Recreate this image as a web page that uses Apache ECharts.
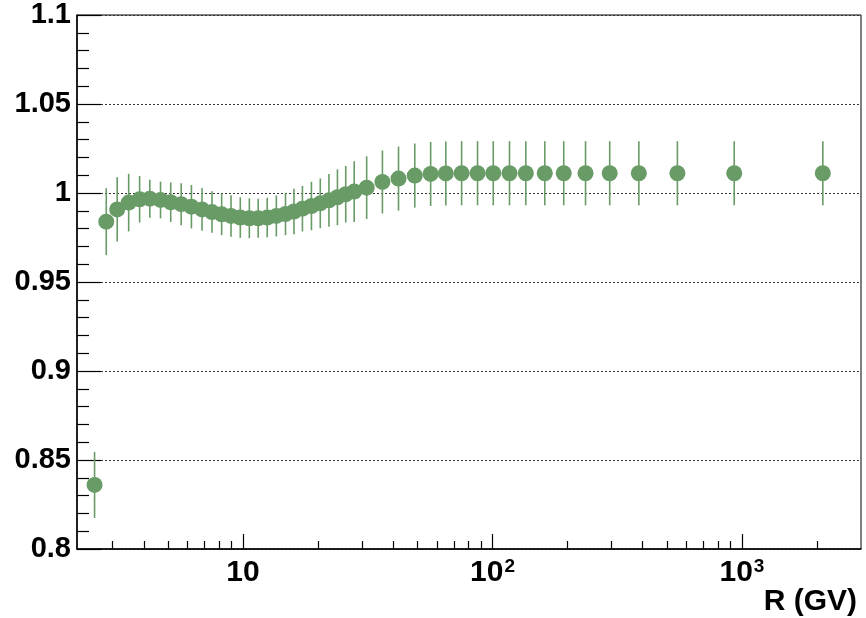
<!DOCTYPE html>
<html>
<head>
<meta charset="utf-8">
<title>R (GV)</title>
<script src="https://cdn.jsdelivr.net/npm/echarts@6/dist/echarts.min.js"></script>
<style>
  html, body { margin: 0; padding: 0; background: #ffffff; }
  #chart { width: 866px; height: 618px; }
</style>
</head>
<body>
<div id="chart"></div>
<script>
// Rigidity bin positions (GV)
const rigidity = [2.54, 2.83, 3.13, 3.48, 3.85, 4.23, 4.67, 5.13, 5.65, 6.21,
  6.85, 7.51, 8.21, 8.95, 9.75, 10.6, 11.5, 12.5, 13.6, 14.8,
  16.0, 17.3, 18.8, 20.4, 22.1, 23.9, 25.8, 27.9, 31.3, 36.2,
  42.0, 48.8, 56.5, 65.0, 75.2, 87.1, 100.7, 117, 136, 162,
  193, 236, 295, 386, 551, 931, 2109];

// Ratio values
const ratio = [0.836, 0.9839, 0.9908, 0.9946, 0.9965, 0.9968, 0.9961, 0.9948, 0.9937, 0.9923,
  0.9908, 0.9893, 0.9880, 0.9871, 0.9862, 0.9858, 0.9858, 0.9862, 0.9871, 0.9882,
  0.9896, 0.9912, 0.9927, 0.9942, 0.9959, 0.9976, 0.9993, 1.0008, 1.0030, 1.0062,
  1.0081, 1.0098, 1.0107, 1.0110, 1.0111, 1.0111, 1.0111, 1.0111, 1.0111, 1.0111,
  1.0111, 1.0111, 1.0111, 1.0111, 1.0111, 1.0111, 1.0111];

// Symmetric uncertainties
const errors = [0.0185, 0.0188, 0.0180, 0.0162, 0.0131, 0.0107, 0.0103, 0.0111, 0.0118, 0.0122,
  0.0120, 0.0117, 0.0117, 0.0117, 0.0114, 0.0112, 0.0110, 0.0111, 0.0115, 0.0119,
  0.0128, 0.0128, 0.0136, 0.0140, 0.0148, 0.0157, 0.0159, 0.0171, 0.0176, 0.0177,
  0.0180, 0.0180, 0.0180, 0.0180, 0.0180, 0.0180, 0.0180, 0.0180, 0.0180, 0.0180,
  0.0180, 0.0180, 0.0180, 0.0180, 0.0180, 0.0180, 0.0180];

// Axis ticks
const xMajorTicks = [10, 100, 1000];
const xMinorTicks = [3, 4, 5, 6, 7, 8, 9, 20, 30, 40, 50, 60, 70, 80, 90,
  200, 300, 400, 500, 600, 700, 800, 900, 2000];
const xRange = [2.16, 3000];
const yRange = [0.8, 1.1];

const FONT = '"Liberation Sans", Arial, Helvetica, sans-serif';
const GREEN = '#689b66';

const points = rigidity.map((r, i) => [r, ratio[i]]);
const bars = rigidity.map((r, i) => [r, ratio[i] - errors[i], ratio[i] + errors[i]]);

function powerLabel(v) {
  const exp = Math.round(Math.log10(v));
  if (exp === 1) return '{b|10}';
  return '{b|10}{s|' + exp + '}';
}

const chart = echarts.init(document.getElementById('chart'), null, { renderer: 'canvas' });

chart.setOption({
  animation: false,
  backgroundColor: '#ffffff',
  title: {
    text: 'R (GV)',
    right: 4,
    top: 582,
    textStyle: { fontFamily: FONT, fontSize: 30, fontWeight: 'bold', color: '#000' }
  },
  grid: { left: 77, right: 5, top: 15, bottom: 69, show: true, borderColor: '#000', borderWidth: 1 },
  xAxis: [
    {
      type: 'log', logBase: 10, min: xRange[0], max: xRange[1],
      axisLine: { show: true, onZero: false, lineStyle: { color: '#000', width: 1.5 } },
      axisTick: { show: true, inside: true, length: 15, customValues: xMajorTicks,
        lineStyle: { color: '#000', width: 1.2 } },
      axisLabel: {
        show: true, customValues: xMajorTicks, margin: 8,
        formatter: powerLabel,
        rich: {
          b: { fontFamily: FONT, fontSize: 30, fontWeight: 'bold', color: '#000', lineHeight: 32 },
          s: { fontFamily: FONT, fontSize: 19, fontWeight: 'bold', color: '#000', verticalAlign: 'top', lineHeight: 32, padding: [0, 0, 0, 1] }
        }
      },
      splitLine: { show: false }
    },
    {
      type: 'log', logBase: 10, min: xRange[0], max: xRange[1],
      position: 'bottom',
      axisLine: { show: false },
      axisTick: { show: true, inside: true, length: 8, customValues: xMinorTicks,
        lineStyle: { color: '#000', width: 1.2 } },
      axisLabel: { show: false },
      splitLine: { show: false }
    }
  ],
  yAxis: {
    type: 'value', min: yRange[0], max: yRange[1], interval: 0.05,
    axisLine: { show: true, onZero: false, lineStyle: { color: '#000', width: 1.5 } },
    axisTick: { show: true, inside: true, length: 24, lineStyle: { color: '#000', width: 1.2 } },
    minorTick: { show: true, splitNumber: 5, length: 12, lineStyle: { color: '#000', width: 1.2 } },
    axisLabel: {
      margin: 6,
      fontFamily: FONT, fontSize: 29, fontWeight: 'bold', color: '#000'
    },
    splitLine: { show: true, lineStyle: { color: '#333', width: 1, type: [2, 2] } }
  },
  series: [
    {
      type: 'custom',
      name: 'uncertainty',
      xAxisIndex: 0,
      data: bars,
      clip: true,
      renderItem: function (params, api) {
        const lo = api.coord([api.value(0), api.value(1)]);
        const hi = api.coord([api.value(0), api.value(2)]);
        return {
          type: 'line',
          shape: { x1: lo[0], y1: lo[1], x2: hi[0], y2: hi[1] },
          style: { stroke: GREEN, lineWidth: 1.6 }
        };
      },
      z: 2
    },
    {
      type: 'scatter',
      name: 'ratio',
      xAxisIndex: 0,
      data: points,
      symbol: 'circle',
      symbolSize: 16,
      itemStyle: { color: GREEN, opacity: 1 },
      z: 3
    }
  ]
});
</script>
</body>
</html>
